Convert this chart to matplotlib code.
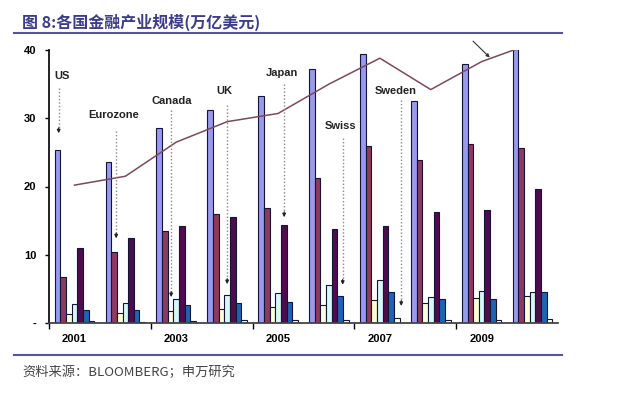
import matplotlib
matplotlib.use("Agg")
import matplotlib.pyplot as plt
import numpy as np

plt.rcParams['font.family'] = ['Liberation Sans', 'Noto Sans CJK SC', 'DejaVu Sans']

years = ["2001", "2002", "2003", "2004", "2005", "2006", "2007", "2008", "2009", "2010"]
series_names = ["US", "Eurozone", "Canada", "UK", "Japan", "Swiss", "Sweden"]
us = [25.4, 23.6, 28.5, 31.2, 33.3, 37.2, 39.4, 32.5, 38.0, 40.2]
eurozone = [6.8, 10.4, 13.5, 16.0, 16.8, 21.2, 26.0, 23.9, 26.2, 25.7]
canada = [1.3, 1.4, 1.7, 2.0, 2.4, 2.7, 3.4, 3.0, 3.7, 4.0]
uk = [2.8, 2.9, 3.5, 4.1, 4.4, 5.6, 6.3, 3.85, 4.7, 4.5]
japan = [11.0, 12.5, 14.2, 15.5, 14.4, 13.8, 14.2, 16.3, 16.6, 19.7]
swiss = [1.9, 1.9, 2.6, 2.9, 3.1, 3.9, 4.6, 3.5, 3.5, 4.6]
sweden = [0.25, 0.2, 0.35, 0.5, 0.5, 0.5, 0.7, 0.45, 0.5, 0.65]
total_line = [20.2, 21.5, 26.5, 29.5, 30.7, 35.0, 38.8, 34.2, 38.3, 41.0]
ytick_vals = [0, 10, 20, 30, 40]
ytick_labels = ["-", "10", "20", "30", "40"]

colors = ["#9999ee", "#8e3a5c", "#ffffd8", "#d8f8f8", "#4e0c4e", "#1f64b4", "#ffffff"]
data = [us, eurozone, canada, uk, japan, swiss, sweden]

fig = plt.figure(figsize=(6.19, 3.95), dpi=100)
ax = fig.add_axes([49/619, 1-323/395, (558-49)/619, (323-50)/395])

n = len(years)
x = np.arange(n) + 0.5
w = 1/9
for j, (vals, c) in enumerate(zip(data, colors)):
    ax.bar(x + (j-3)*w, vals, width=w, color=c, edgecolor="#141438",
           linewidth=0.8, zorder=2)

ax.plot(x, total_line, color="#7a4a5c", lw=1.1, zorder=3)

ax.set_xlim(0, n)
ax.set_ylim(0, 40)
for s in ["top", "right"]:
    ax.spines[s].set_visible(False)
ax.spines["left"].set_linewidth(1.3)
ax.spines["bottom"].set_linewidth(1.3)
ax.spines["left"].set_color("#111111")
ax.spines["bottom"].set_color("#444444")

ax.set_yticks(ytick_vals)
ax.set_yticklabels(ytick_labels, fontsize=8, fontweight="bold")
ax.tick_params(axis="y", length=3, width=1, direction="out", pad=6)

ax.set_xticks(x[::2])
ax.set_xticklabels(years[::2], fontsize=8, fontweight="bold")
ax.tick_params(axis="x", length=0, pad=8)
ax.set_xticks(np.arange(0, n, 2), minor=True)
ax.tick_params(axis="x", which="minor", length=4, width=1, direction="out")

# annotations: (label, text x, text y, line x, line top, line bottom)
annos = [
    ("US", 0.26, 36.2, 0.19, 34.4, 27.8),
    ("Eurozone", 1.27, 30.5, 1.32, 28.1, 12.4),
    ("Canada", 2.41, 32.5, 2.40, 31.2, 3.8),
    ("UK", 3.45, 34.0, 3.50, 31.9, 5.7),
    ("Japan", 4.57, 36.7, 4.62, 35.0, 15.5),
    ("Swiss", 5.72, 28.8, 5.77, 27.1, 5.6),
    ("Sweden", 6.81, 34.0, 6.92, 32.7, 2.5),
]
for lab, tx, ty, lx, y0, y1 in annos:
    ax.text(tx, ty, lab, fontsize=8, fontweight="bold", color="#222222",
            ha="center", va="center", zorder=5)
    ax.plot([lx, lx], [y0, y1 + 0.6], linestyle=(0, (1, 1.5)),
            color="#8a8a8a", lw=1.0, zorder=4)
    ax.annotate("", xy=(lx, y1), xytext=(lx, y1 + 0.8),
                arrowprops=dict(arrowstyle="-|>", color="#222222", lw=0.8,
                                mutation_scale=5, shrinkA=0, shrinkB=0),
                zorder=4)

ax.annotate("", xy=(8.66, 38.9), xytext=(8.33, 41.3),
            arrowprops=dict(arrowstyle="-|>", color="#333333", lw=0.8,
                            mutation_scale=5, shrinkA=0, shrinkB=0),
            annotation_clip=False)

# title and source
fig.text(22/619, 1-22/395, "图 8:各国金融产业规模(万亿美元)", fontsize=11.5,
         fontweight="bold", color="#3c3c88", va="center", ha="left",
         family=['Noto Sans CJK SC', 'DejaVu Sans'])
fig.add_artist(plt.Line2D([14/619, 562/619], [1-33/395, 1-33/395],
                          color="#55559a", lw=1.5))
fig.add_artist(plt.Line2D([14/619, 562/619], [1-355/395, 1-355/395],
                          color="#55559a", lw=1.5))
fig.text(22/619, 1-372/395, "资料来源：BLOOMBERG；申万研究", fontsize=9.5,
         color="#444444", va="center", ha="left",
         family=['Noto Sans CJK SC', 'DejaVu Sans'])

fig.savefig("out.png", dpi=100)
